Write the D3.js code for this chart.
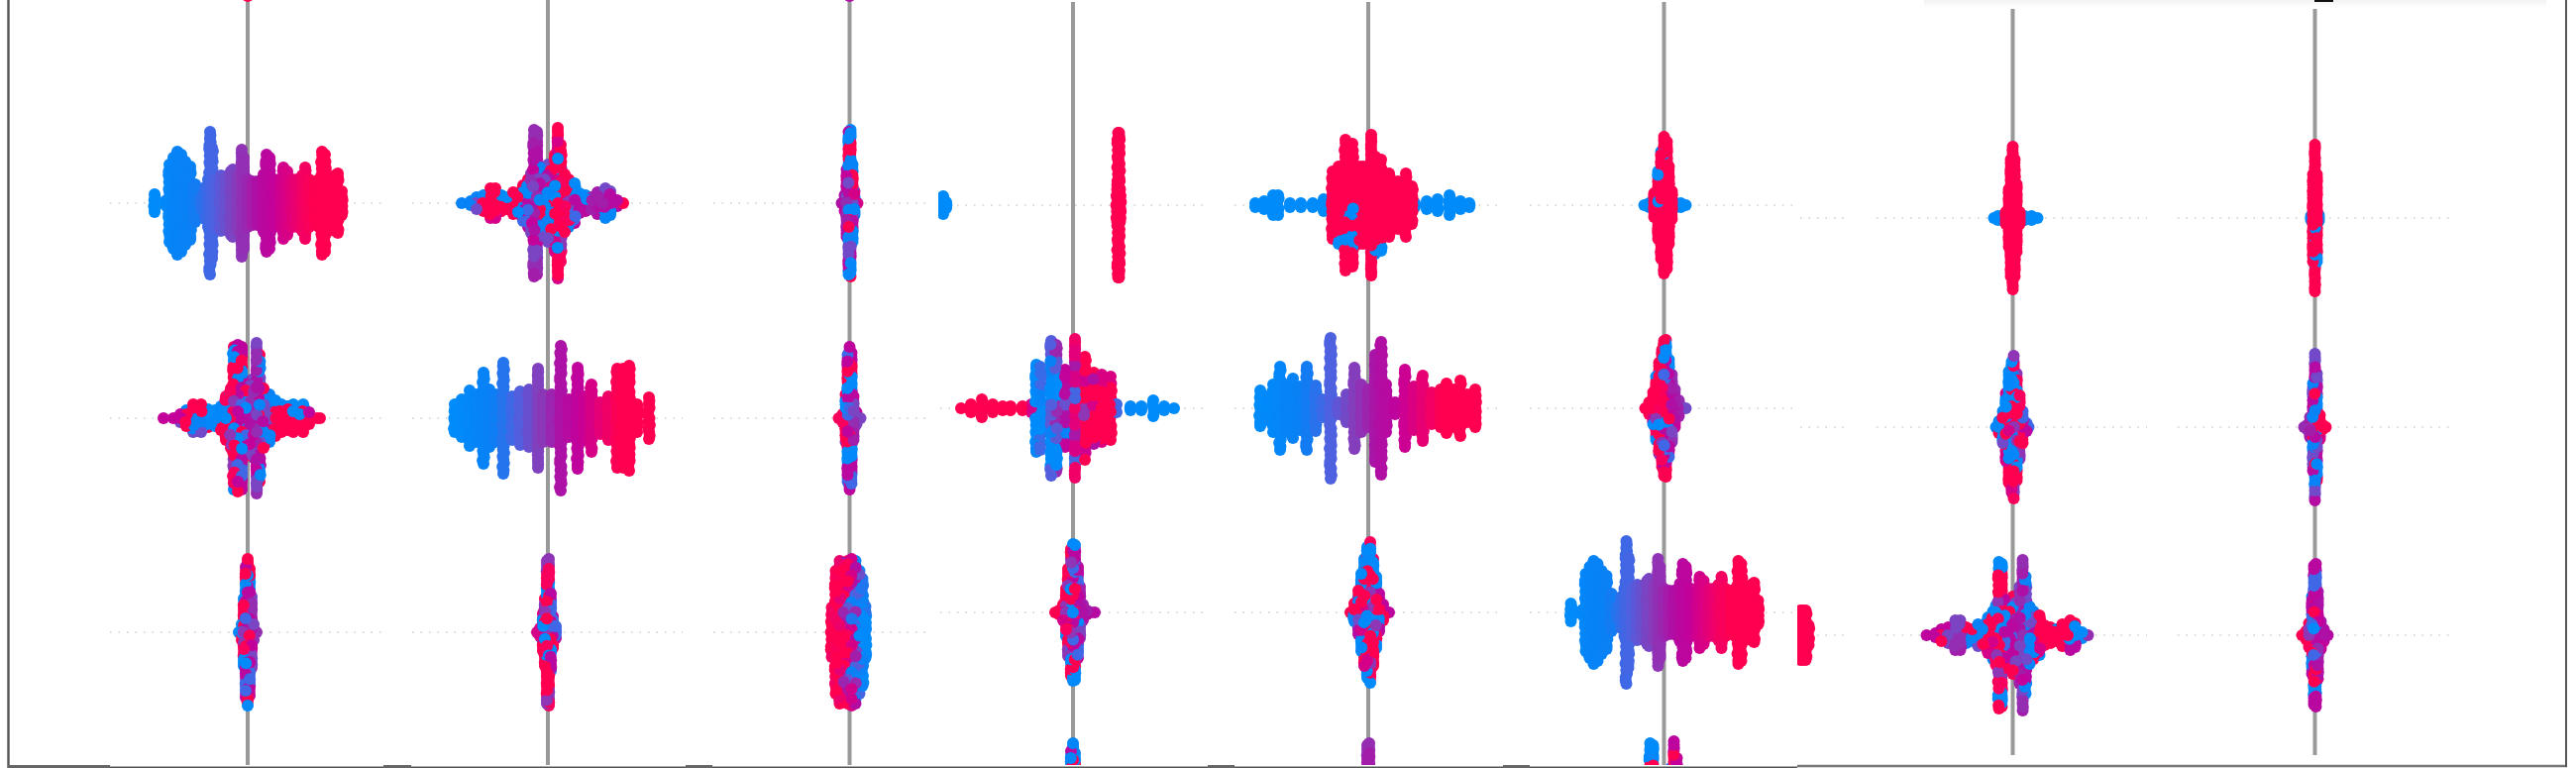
<!DOCTYPE html>
<html><head><meta charset="utf-8">
<script src="https://cdnjs.cloudflare.com/ajax/libs/d3/7.8.5/d3.min.js"></script>
<style>html,body{margin:0;padding:0;background:#fff;overflow:hidden}svg{display:block}</style>
</head><body><div id="chart"></div>
<script>
// ---------- values: [shap value, half spread of the swarm, feature value (optional)] ----------
const orderedA=[[-.94,15],[-.88,7],[-.82,9],[-.79,45],[-.75,52],[-.71,58],[-.67,55],[-.63,48],[-.58,43],[-.53,25],[-.47,12],[-.43,22],[-.40,30],[-.38,78],[-.36,62],[-.32,30],[-.27,34],[-.22,33],[-.17,38],[-.15,40],[-.10,34],[-.06,60],[-.04,52],[0,30],[.05,28],[.10,28],[.16,35],[.19,55],[.22,52],[.27,30],[.33,30],[.36,42],[.40,38],[.45,30],[.50,30],[.55,34],[.58,42],[.62,30],[.68,28],[.72,30],[.75,58],[.78,55],[.83,30],[.88,34],[.91,36],[.95,18]];
const orderedB=[[-.94,20],[-.87,25],[-.79,34],[-.72,30],[-.65,52],[-.59,35],[-.53,30],[-.45,62],[-.36,28],[-.28,33],[-.19,35],[-.10,56],[-.05,30],[.04,30],[.13,79],[.21,25],[.30,57],[.37,28],[.44,40],[.53,22],[.61,28],[.70,56],[.76,56],[.82,59],[.90,20],[1.02,27]];
const orderedC=[[-1.09,24],[-1.02,18],[-.96,30],[-.89,48],[-.82,30],[-.76,36],[-.69,28],[-.62,48],[-.53,29],[-.46,15],[-.38,77],[-.30,12],[-.22,20],[-.14,47],[-.07,30],[0,25],[.07,60],[.13,73],[.18,30],[.27,12],[.37,45],[.46,28],[.55,39],[.64,22],[.73,25],[.79,31],[.86,25],[.93,34],[1.00,20],[1.08,25]];
const crossA=[[-.87,7],[-.78,8],[-.72,12],[-.65,14],[-.58,21],[-.53,21],[-.47,14],[-.41,12],[-.35,17],[-.30,15],[-.25,24],[-.20,30],[-.17,36],[-.14,80],[-.11,78],[-.08,42],[-.03,40],[0,45],[.03,42],[.07,55],[.10,82],[.13,65],[.17,35],[.21,30],[.27,26],[.32,16],[.38,14],[.44,12],[.50,17],[.55,12],[.58,21],[.63,18],[.70,9],[.76,6]];
const crossB=[[-.85,6],[-.75,6],[-.68,10],[-.62,14],[-.55,20],[-.47,20],[-.40,15],[-.33,14],[-.27,18],[-.22,28],[-.17,36],[-.14,78],[-.10,80],[-.06,78],[-.02,44],[.02,42],[.06,46],[.09,82],[.12,70],[.16,36],[.22,30],[.28,24],[.34,20],[.40,18],[.46,20],[.52,14],[.56,20],[.62,12],[.70,6],[.73,5]];
const crossC=[[-1.13,7,1],[-1.03,10,1],[-.92,15,1],[-.81,10,.95],[-.71,8,.95],[-.63,8,.9],[-.51,8,.85],[-.42,10,.7],[-.37,50,.05],[-.33,48,.05],[-.22,74,.1],[-.17,70,.25],[-.08,45,.4],[.02,76,.55],[.12,58,.7],[.21,42,.8],[.29,40,.95],[.38,38,.95],[.44,10,.3],[.58,8,.05],[.69,8,.02],[.81,14,0],[.92,8,0],[1.02,7,0]];
const stripeSplit=[[-1.31,15,0],[-1.28,9,0],[.445,22,1],[.455,79,1],[.465,79,1],[.475,22,1]];
const burstRed=[[-1.14,8,0],[-1.05,10,0],[-.96,16,0],[-.91,16,0],[-.79,8,0],[-.68,8,0],[-.56,8,0],[-.45,12,0],[.47,8,0],[.59,10,0],[.70,12,0],[.82,16,0],[.93,10,0],[1.02,8,0],[-.36,40],[-.30,45],[-.23,72],[-.16,68],[-.09,45],[-.05,45],[.03,77],[.07,55],[.13,52],[.21,38],[.30,30],[.38,38],[.44,25]];
const spindleRedA=[[-.20,6,0],[-.15,8,0],[.12,8,0],[.17,8,0],[.22,6,0],[-.10,18],[-.06,40],[-.03,60],[0,75],[.03,70],[.05,45],[.08,20]];
const spindleRedB=[[-.19,6,0],[-.15,8,0],[-.11,8,0],[.12,8,0],[.19,8,0],[.25,6,0],[-.07,12],[-.04,35],[-.02,65],[0,78],[.02,65],[.04,40],[.07,12]];
const spindleRedC=[[-.04,8,0],[.04,9,0],[-.02,50],[0,80],[.02,50]];
const spindle1=[[-.09,6],[-.06,14],[-.04,40],[-.02,72],[0,80],[.02,70],[.04,42],[.06,14],[.09,6]];
const spindle2=[[-.11,6],[-.08,10],[-.05,25],[-.03,40],[-.01,78],[.01,80],[.03,45],[.05,22],[.08,12]];
const spindle3=[[-.08,6],[-.05,14],[-.03,40],[-.01,78],[.01,80],[.03,45],[.05,18],[.08,6]];
const spindle4=[[-.11,6],[-.07,10],[-.04,30],[-.02,70],[0,78],[.02,72],[.04,28],[.07,12],[.11,6]];
const spindle5=[[-.18,7],[-.14,8],[-.10,14],[-.07,30],[-.05,50],[-.02,70],[0,75],[.02,74],[.05,52],[.07,32],[.10,14],[.14,8],[.18,6],[.22,5]];
const spindle6=[[-.18,6],[-.14,15],[-.10,28],[-.07,45],[-.04,60],[-.01,72],[.02,77],[.05,60],[.08,42],[.11,25],[.15,14],[.21,6]];
const spindle7=[[-.19,5],[-.15,12],[-.11,22],[-.08,38],[-.05,52],[-.02,65],[0,74],[.02,75],[.05,55],[.08,40],[.11,25],[.15,14],[.22,6]];
const spindle8=[[-.17,6],[-.14,12],[-.10,22],[-.07,40],[-.04,62],[-.01,72],[.01,78],[.04,60],[.07,38],[.10,22],[.14,10],[.16,6]];
const spindle9=[[-.11,5],[-.08,8],[-.05,16],[-.02,50],[0,80],[.02,60],[.05,18],[.08,8],[.11,6]];
const spindle10=[[-.13,6],[-.09,10],[-.06,18],[-.03,45],[-.01,76],[.01,78],[.03,50],[.06,20],[.09,12],[.13,6]];
const slab=[[-.18,31,1],[-.14,68,1],[-.10,78,.95],[-.06,76,.75],[-.02,78,.6],[.02,80,.45],[.06,78,.33],[.10,68,.15],[.13,60,0],[.16,32,0]];
const sideRed=[[-2.14,31,1],[-2.12,31,1],[-2.09,31,1],[-2.06,16,1]];
const tipRed=[[0,13,1]];
const tipPurple=[[0,13,.55]];
const mixedFeature=[.03,.97,.42,.82,.1,.6,1,.48,.02,.9,.3,.7,.52,.98,.15,.62,.0,.55,.88,.4,1,.08,.65,.46,.58];
const mostlyRedFeature=[1,1,1,1,1,0,1,1,1,1,1,1,1,1,1,.02,1,1,1,1,1,1,.98,1,1,1,1,1,1];
const withinBinShift=[-.008,.005,-.003,.009,-.006,.002,.007,-.009,.004,-.001,.006,-.007];
const colorStops=[0,.2,.33,.45,.55,.65,.75,.85,1];
const colorRange=["#008bfb","#0a80f5","#5060e0","#8a3ab8","#ae10a5","#c4009a","#e60075","#ff0051","#ff0051"];

// ---------- layout ----------
const W=2600,H=775,R=6,STEP=3.4,RUN=4;
const groupRows={a:[-11,205,422,638],b:[207,412,618,824],c:[220,431,641]};
const panels=[
 {zero:250, rows:groupRows.a,grid:[[111,385]],line:[0,774],clip:[9,1500],swarms:[[tipRed,"mix"],[orderedA,"ordered"],[crossB,"mix"],[spindle1,"mix"]]},
 {zero:553, rows:groupRows.a,grid:[[416,689]],line:[0,774],clip:[9,1500],swarms:[null,[crossA,"mix"],[orderedB,"ordered"],[spindle2,"mix"]]},
 {zero:857.5,rows:groupRows.a,grid:[[720,940]],line:[0,774],clip:[9,1500],swarms:[[tipPurple,"mix"],[spindle3,"mix"],[spindle4,"mix"],[slab,"noisy"]]},
 {zero:1083,rows:groupRows.b,grid:[[949,1216]],line:[2,774],clip:[947,2590],swarms:[[stripeSplit,"mix"],[crossC,"noisy"],[spindle5,"mix"],[spindle1,"mix"]]},
 {zero:1381,rows:groupRows.b,grid:[[1246,1513]],line:[2,774],clip:[947,2590],swarms:[[burstRed,"red"],[orderedC,"ordered"],[spindle6,"mix"],[spindle2,"mix"]]},
 {zero:1679.5,rows:groupRows.b,grid:[[1544,1811]],line:[2,774],clip:[947,2590],swarms:[[spindleRedA,"red"],[spindle7,"mix"],[orderedA,"ordered"],[crossA,"mix"]]},
 {zero:2031.5,rows:groupRows.c,grid:[[1817,1863],[1894,2167]],line:[9,762],clip:[1814,2590],swarms:[[spindleRedB,"red"],[spindle8,"mix"],[crossA,"mix"]],extra:[2,sideRed]},
 {zero:2336.5,rows:groupRows.c,grid:[[2198,2473]],line:[9,762],clip:[1814,2590],swarms:[[spindleRedC,"red"],[spindle9,"mix"],[spindle10,"mix"]]}
];

const svg=d3.select("#chart").append("svg").attr("width",W).attr("height",H);
svg.append("rect").attr("width",W).attr("height",H).attr("fill","#fff");
const color=d3.scaleLinear().domain(colorStops).range(colorRange).clamp(true);

// faint legend shadow at the top right
const defs=svg.append("defs");
const g=defs.append("linearGradient").attr("id","shade").attr("x1",0).attr("x2",0).attr("y1",0).attr("y2",1);
g.append("stop").attr("offset",0).attr("stop-color","#f2f2f2");
g.append("stop").attr("offset",1).attr("stop-color","#ffffff");
svg.append("rect").attr("x",1942).attr("y",0).attr("width",628).attr("height",8).attr("fill","url(#shade)");
svg.append("rect").attr("x",2336).attr("y",0).attr("width",19).attr("height",2).attr("fill","#111");

function dotsFor(columns,tone,panelIdx,rowIdx){
  const ext=d3.extent(columns,c=>c[0]);
  const out=[];
  columns.forEach((c,ci)=>{
    const n=Math.max(0,Math.round((c[1]-R)/STEP));
    const exact=n===0?0:(c[1]-R)/n;
    for(let k=-n;k<=n;k++){
      // neighbouring dots share a feature value so that they read as one larger dot under the overplotting
      const key=Math.floor(ci/3)*7+Math.floor((k+n+ci)/RUN)*5+panelIdx*3+rowIdx*11;
      let fv;
      if(c[2]!==undefined){
        fv=c[2];
        if(tone==="noisy"&&c[1]>20) fv=Math.max(0,Math.min(1,c[2]+(mixedFeature[key%mixedFeature.length]-.5)*.5));
      }
      else if(tone==="ordered") fv=(c[0]-ext[0])/(ext[1]-ext[0]);
      else if(tone==="red") fv=mostlyRedFeature[key%mostlyRedFeature.length];
      else fv=mixedFeature[key%mixedFeature.length];
      const spread=Math.abs(k)===n?0:(Math.abs(c[0])<.12?.3:1);
      out.push({v:c[0]+withinBinShift[(ci*7+k+n)%withinBinShift.length]*spread,off:k*exact,fv:fv,blue:fv===0&&c[2]===0});
    }
  });
  return out;
}

panels.forEach((p,pi)=>{
  const x=d3.scaleLinear().domain([-1.37,1.37]).range([p.zero-137,p.zero+137]);
  const y=d3.scaleLinear().domain([0,100]).range([0,100]);
  const id="clip"+pi;
  defs.append("clipPath").attr("id",id).append("rect")
    .attr("x",p.clip[0]).attr("y",0).attr("width",p.clip[1]-p.clip[0]).attr("height",772);
  const root=svg.append("g").attr("clip-path",`url(#${id})`);
  p.rows.forEach(ry=>{
    p.grid.forEach(seg=>{
      root.append("line").attr("x1",seg[0]).attr("x2",seg[1]).attr("y1",ry).attr("y2",ry)
        .attr("stroke","#cfcfcf").attr("stroke-width",1.5).attr("stroke-dasharray","1.5 7");
    });
  });
  root.append("line").attr("x1",x(0)).attr("x2",x(0)).attr("y1",p.line[0]).attr("y2",p.line[1])
    .attr("stroke","#999").attr("stroke-width",4);
  p.swarms.forEach((s,ri)=>{
    if(!s) return;
    let dots=dotsFor(s[0],s[1],pi,ri);
    if(s[1]!=="ordered"){
      const order=dots.map((d,i)=>[d,(i*2654435761)%4294967296]);
      order.sort((a,b)=>{
        if(s[1]==="red"&&a[0].blue!==b[0].blue) return a[0].blue?-1:1;
        return a[1]-b[1];
      });
      dots=order.map(o=>o[0]);
    }
    root.append("g").selectAll("circle").data(dots).join("circle")
      .attr("cx",d=>x(d.v)).attr("cy",d=>p.rows[ri]+y(d.off)).attr("r",R)
      .attr("fill",d=>color(d.fv));
  });
  if(p.extra){
    const dots=dotsFor(p.extra[1],"mix",pi,p.extra[0]);
    root.append("g").selectAll("circle").data(dots).join("circle")
      .attr("cx",d=>x(d.v)).attr("cy",d=>p.rows[p.extra[0]]+y(d.off)).attr("r",R)
      .attr("fill",d=>color(d.fv));
  }
});

// frame
const frame=svg.append("g");
frame.append("line").attr("x1",8.5).attr("x2",8.5).attr("y1",0).attr("y2",775).attr("stroke","#555").attr("stroke-width",2.4);
frame.append("line").attr("x1",8).attr("x2",1814).attr("y1",774.2).attr("y2",774.2).attr("stroke","#555").attr("stroke-width",1.6);
frame.append("line").attr("x1",1814).attr("x2",2591).attr("y1",773).attr("y2",773).attr("stroke","#777").attr("stroke-width",2.4);
frame.append("line").attr("x1",2590).attr("x2",2590).attr("y1",0).attr("y2",774).attr("stroke","#555").attr("stroke-width",2);
[[8,111],[387,415],[692,719],[1219,1246],[1517,1544]].forEach(t=>{
  frame.append("rect").attr("x",t[0]).attr("y",772).attr("width",t[1]-t[0]).attr("height",3).attr("fill","#666");
});
</script></body></html>
